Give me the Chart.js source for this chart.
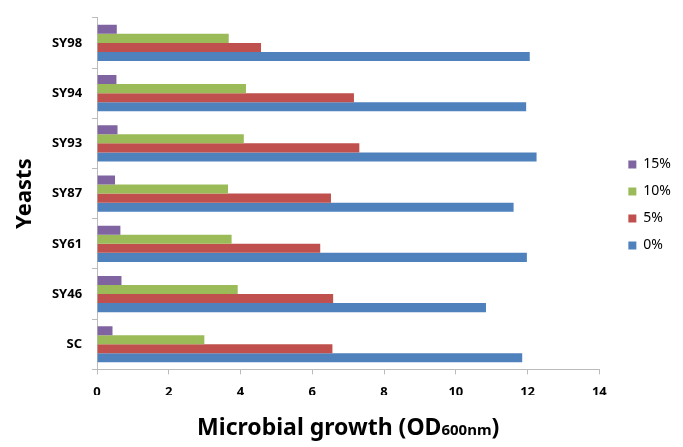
<!DOCTYPE html>
<html>
<head>
<meta charset="utf-8">
<script src="https://cdn.jsdelivr.net/npm/chart.js@4"></script>
<style>
  body { margin: 0; background: #fff; }
  #wrap { width: 683px; height: 447px; position: relative; }
</style>
</head>
<body>
<div id="wrap"><canvas id="growthChart"></canvas></div>
<script>
// yeast strains, top to bottom
let categories = ["SY98", "SY94", "SY93", "SY87", "SY61", "SY46", "SC"];
let seriesNames = ["15%", "10%", "5%", "0%"];
let values15 = [0.55, 0.54, 0.57, 0.50, 0.65, 0.68, 0.43];
let values10 = [3.67, 4.15, 4.09, 3.65, 3.75, 3.92, 2.99];
let values5 = [4.57, 7.16, 7.31, 6.52, 6.22, 6.58, 6.56];
let values0 = [12.06, 11.96, 12.25, 11.61, 11.98, 10.84, 11.85];
let xTicks = [0, 2, 4, 6, 8, 10, 12, 14];
let xTitleMain = "Microbial growth (OD";
let xTitleSub = "600nm";
let xTitleEnd = ")";
let yTitle = "Yeasts";

let colors = ["#8064A2", "#9BBB59", "#C0504D", "#4F81BD"];
let allValues = [values15, values10, values5, values0];

// draws the x axis title with a subscript
let xTitlePlugin = {
  id: "xTitle",
  afterDraw(chart) {
    let ctx = chart.ctx;
    let area = chart.chartArea;
    let big = "bold 23px 'Noto Sans'";
    let small = "bold 15px 'Noto Sans'";
    ctx.save();
    ctx.fillStyle = "#000";
    ctx.textBaseline = "alphabetic";
    ctx.font = big;
    let w1 = ctx.measureText(xTitleMain).width;
    let w3 = ctx.measureText(xTitleEnd).width;
    ctx.font = small;
    let w2 = ctx.measureText(xTitleSub).width;
    let x = (area.left + area.right) / 2 - (w1 + w2 + w3) / 2;
    let y = 435;
    ctx.font = big;
    ctx.fillText(xTitleMain, x, y);
    ctx.font = small;
    ctx.fillText(xTitleSub, x + w1, y);
    ctx.font = big;
    ctx.fillText(xTitleEnd, x + w1 + w2, y);
    ctx.restore();
  },
};

let canvasElement = document.getElementById("growthChart");
let config = {
  type: "bar",
  data: {
    labels: categories,
    datasets: seriesNames.map((name, i) => ({
      label: name,
      data: allValues[i],
      backgroundColor: colors[i],
      borderWidth: 0,
      categoryPercentage: 0.72,
      barPercentage: 1.0,
    })),
  },
  options: {
    indexAxis: "y",
    responsive: true,
    maintainAspectRatio: false,
    animation: false,
    layout: { padding: { top: 15, left: 7.5, right: 2, bottom: 52 } },
    plugins: {
      tooltip: { enabled: false },
      legend: {
        position: "right",
        labels: {
          boxWidth: 8,
          boxHeight: 8,
          padding: 13,
          color: "#000",
          font: { family: "'Noto Sans'", size: 14 },
        },
      },
    },
    scales: {
      x: {
        min: 0,
        max: 14,
        afterBuildTicks(axis) {
          axis.ticks = xTicks.map((v) => ({ value: v }));
        },
        // tick labels may hang into the bottom padding
        afterFit(scale) {
          scale.height -= 15;
        },
        grid: { drawOnChartArea: false, tickLength: 5, color: "#bbb" },
        border: { color: "#bbb" },
        ticks: { color: "#000", font: { family: "'Noto Sans'", size: 13, weight: "bold" }, padding: 10 },
      },
      y: {
        grid: { drawOnChartArea: false, tickLength: 5, color: "#bbb", offset: true },
        border: { color: "#bbb" },
        ticks: { color: "#000", font: { family: "'Noto Sans'", size: 13, weight: "bold" }, padding: 10 },
        title: {
          display: true,
          text: yTitle,
          color: "#000",
          font: { family: "'Noto Sans'", size: 22, weight: "bold" },
          padding: { bottom: 4 },
        },
      },
      // empty spacer between plot and legend
      gap: {
        type: "linear",
        axis: "y",
        position: "right",
        grid: { display: false },
        border: { display: false },
        ticks: { display: false },
        afterFit(scale) {
          scale.width = 16;
        },
      },
    },
  },
  plugins: [xTitlePlugin],
};
let growthChart = new Chart(canvasElement, config);
</script>
</body>
</html>
